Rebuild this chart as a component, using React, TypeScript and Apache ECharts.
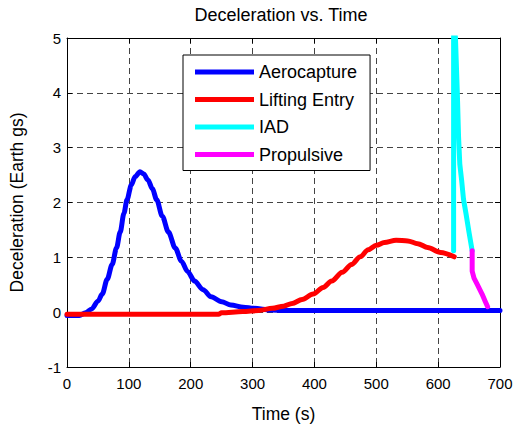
import React, { useEffect, useRef } from "react";
import * as echarts from "echarts";

const seriesNames = ["Aerocapture", "Lifting Entry", "IAD", "Propulsive"];
const seriesColors = ["#0000FF", "#FF0000", "#00FFFF", "#FF00FF"];

const aerocapture: [number, number][] = [
  [0, -0.06], [20, -0.06], [30, -0.01], [40, 0.06], [50, 0.2], [57, 0.33], [65, 0.6],
  [73, 0.87], [80, 1.17], [86, 1.46], [92, 1.8], [97, 2.05], [104, 2.32], [110, 2.47],
  [118, 2.56], [124, 2.52], [131, 2.41], [138, 2.25], [145, 2.05], [154, 1.75], [164, 1.46],
  [175, 1.17], [185, 0.93], [195, 0.74], [206, 0.57], [220, 0.41], [233, 0.28], [250, 0.19],
  [265, 0.13], [285, 0.09], [302, 0.07], [330, 0.04], [350, 0.03], [700, 0.03],
];

const liftingEntry: [number, number][] = [
  [0, -0.04], [245, -0.04], [250, -0.01], [284, 0.01], [310, 0.03], [332, 0.07], [350, 0.11],
  [364, 0.16], [380, 0.23], [398, 0.33], [414, 0.45], [428, 0.57], [445, 0.73], [460, 0.87],
  [474, 1.01], [487, 1.14], [500, 1.22], [513, 1.27], [532, 1.31], [551, 1.3], [567, 1.25],
  [583, 1.18], [604, 1.09], [626, 1.01],
];

const iad: [number, number][] = [
  [625, 1.12], [625, 5.3], [628, 5.0], [631, 4.0], [633, 3.2], [635, 2.7], [638, 2.4],
  [641, 2.06], [645, 1.8], [650, 1.45], [655, 1.12],
];

const propulsive: [number, number][] = [
  [655, 1.12], [655, 0.75], [658, 0.62], [663, 0.51], [671, 0.33], [676, 0.2], [680, 0.1],
];

const xTicks = { min: 0, max: 700, interval: 100 };
const yTicks = { min: -1, max: 5, interval: 1 };

const FONT = "Liberation Sans, Arial, sans-serif";

export default function App() {
  const ref = useRef<HTMLDivElement>(null);
  useEffect(() => {
    if (!ref.current) return;
    const chart = echarts.init(ref.current, undefined, { renderer: "svg" });
    const grid = { left: 63, right: 17, top: 38, bottom: 53, show: false };
    const splitLine = { show: true, lineStyle: { color: "#444", type: [6, 4] as any, width: 1 } };
    const axisLine = { show: true, onZero: false, lineStyle: { color: "#000", width: 1 } };
    const axisTick = { show: true, inside: true, length: 5, lineStyle: { color: "#000" } };
    const datas = [aerocapture, liftingEntry, iad, propulsive];
    const smooths = [0.3, 0.3, false, false];
    chart.setOption({
      animation: false,
      backgroundColor: "#fff",
      textStyle: { fontFamily: FONT },
      title: {
        text: "Deceleration vs. Time",
        left: 281,
        textAlign: "center",
        top: 6,
        padding: 0,
        textStyle: { fontFamily: FONT, fontSize: 18, fontWeight: "normal", color: "#000" },
      },
      grid,
      legend: {
        data: seriesNames,
        orient: "vertical",
        left: 183,
        top: 55,
        padding: [7, 13, 6, 12],
        backgroundColor: "#fff",
        borderColor: "#000",
        borderWidth: 1,
        borderRadius: 0,
        icon: "rect",
        itemWidth: 59,
        itemHeight: 5,
        itemGap: 7.5,
        textStyle: { fontFamily: FONT, fontSize: 18, color: "#000", lineHeight: 20 },
      },
      xAxis: [
        {
          type: "value",
          ...xTicks,
          position: "bottom",
          name: "Time (s)",
          nameLocation: "middle",
          nameGap: 38,
          nameTextStyle: { fontFamily: FONT, fontSize: 17.5, color: "#000" },
          axisLine,
          axisTick,
          axisLabel: { color: "#000", fontSize: 15, fontFamily: FONT, margin: 9 },
          splitLine,
        },
        {
          type: "value",
          ...xTicks,
          position: "top",
          axisLine,
          axisTick,
          axisLabel: { show: false },
          splitLine: { show: false },
        },
      ],
      yAxis: [
        {
          type: "value",
          ...yTicks,
          position: "left",
          name: "Deceleration (Earth gs)",
          nameLocation: "middle",
          nameGap: 41,
          nameTextStyle: { fontFamily: FONT, fontSize: 17.5, color: "#000" },
          axisLine,
          axisTick,
          axisLabel: { color: "#000", fontSize: 15, fontFamily: FONT, margin: 6 },
          splitLine,
        },
        {
          type: "value",
          ...yTicks,
          position: "right",
          axisLine,
          axisTick,
          axisLabel: { show: false },
          splitLine: { show: false },
        },
      ],
      series: seriesNames.map((name, i) => ({
        name,
        type: "line",
        data: datas[i],
        xAxisIndex: 0,
        yAxisIndex: 0,
        showSymbol: false,
        symbol: "none",
        smooth: smooths[i],
        smoothMonotone: "x",
        clip: true,
        color: seriesColors[i],
        lineStyle: { color: seriesColors[i], width: 5, join: "round", cap: "round" },
        z: 2 + i,
      })),
    });
    return () => chart.dispose();
  }, []);
  return (
    <div
      ref={ref}
      style={{ position: "fixed", left: 0, top: 0, width: 517, height: 428, background: "#fff" }}
    />
  );
}
